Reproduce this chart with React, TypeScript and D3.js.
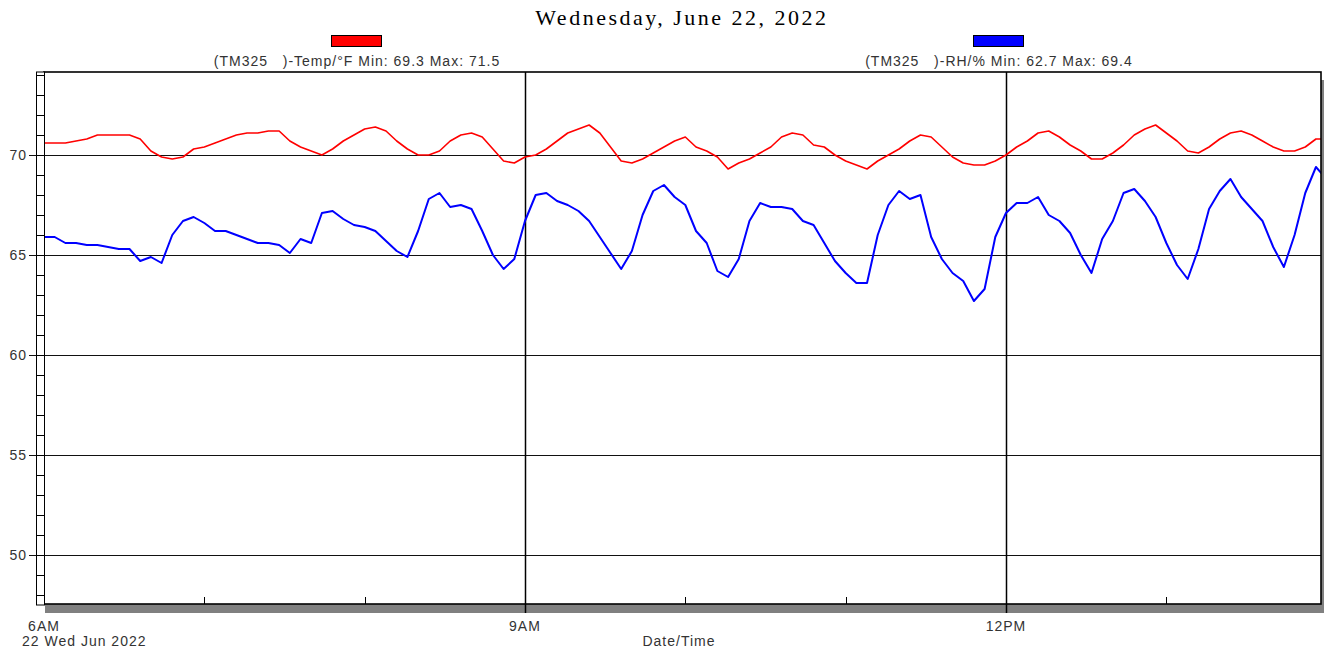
import React from 'react';
import * as d3 from 'd3';

// logger samples, one every 4 minutes from 6:00 AM
const startTime = new Date(2022, 5, 22, 6, 0);
const endTime = new Date(2022, 5, 22, 14, 0);
const stepMinutes = 4;

const tempF = [
  70.6, 70.6, 70.6, 70.7, 70.8, 71.0, 71.0, 71.0, 71.0, 70.8,
  70.2, 69.9, 69.8, 69.9, 70.3, 70.4, 70.6, 70.8, 71.0, 71.1,
  71.1, 71.2, 71.2, 70.7, 70.4, 70.2, 70.0, 70.3, 70.7, 71.0,
  71.3, 71.4, 71.2, 70.7, 70.3, 70.0, 70.0, 70.2, 70.7, 71.0,
  71.1, 70.9, 70.3, 69.7, 69.6, 69.9, 70.0, 70.3, 70.7, 71.1,
  71.3, 71.5, 71.1, 70.4, 69.7, 69.6, 69.8, 70.1, 70.4, 70.7,
  70.9, 70.4, 70.2, 69.9, 69.3, 69.6, 69.8, 70.1, 70.4, 70.9,
  71.1, 71.0, 70.5, 70.4, 70.0, 69.7, 69.5, 69.3, 69.7, 70.0,
  70.3, 70.7, 71.0, 70.9, 70.4, 69.9, 69.6, 69.5, 69.5, 69.7,
  70.0, 70.4, 70.7, 71.1, 71.2, 70.9, 70.5, 70.2, 69.8, 69.8,
  70.1, 70.5, 71.0, 71.3, 71.5, 71.1, 70.7, 70.2, 70.1, 70.4,
  70.8, 71.1, 71.2, 71.0, 70.7, 70.4, 70.2, 70.2, 70.4, 70.8,
  70.8,
];

const rhPct = [
  65.9, 65.9, 65.6, 65.6, 65.5, 65.5, 65.4, 65.3, 65.3, 64.7,
  64.9, 64.6, 66.0, 66.7, 66.9, 66.6, 66.2, 66.2, 66.0, 65.8,
  65.6, 65.6, 65.5, 65.1, 65.8, 65.6, 67.1, 67.2, 66.8, 66.5,
  66.4, 66.2, 65.7, 65.2, 64.9, 66.2, 67.8, 68.1, 67.4, 67.5,
  67.3, 66.2, 65.0, 64.3, 64.8, 66.7, 68.0, 68.1, 67.7, 67.5,
  67.2, 66.7, 65.9, 65.1, 64.3, 65.2, 67.0, 68.2, 68.5, 67.9,
  67.5, 66.2, 65.6, 64.2, 63.9, 64.8, 66.7, 67.6, 67.4, 67.4,
  67.3, 66.7, 66.5, 65.6, 64.7, 64.1, 63.6, 63.6, 66.0, 67.5,
  68.2, 67.8, 68.0, 65.9, 64.8, 64.1, 63.7, 62.7, 63.3, 65.9,
  67.1, 67.6, 67.6, 67.9, 67.0, 66.7, 66.1, 65.0, 64.1, 65.8,
  66.7, 68.1, 68.3, 67.7, 66.9, 65.6, 64.5, 63.8, 65.3, 67.3,
  68.2, 68.8, 67.9, 67.3, 66.7, 65.4, 64.4, 66.0, 68.1, 69.4,
  68.8,
];

const yMajorTicks = [50, 55, 60, 65, 70];
const xLabelHours = [6, 9, 12];
const xLabelText = ['6AM', '9AM', '12PM'];
const xGridHours = [9, 12];
const xMinorHours = [7, 8, 10, 11, 13];

const titleText = 'Wednesday, June 22, 2022';
const dateText = '22 Wed Jun 2022';
const axisTitle = 'Date/Time';
const seriesNames = ['(TM325   )-Temp/°F', '(TM325   )-RH/%'];
const seriesColors = ['#ff0000', '#0000ff'];

const W = 1324;
const H = 652;
const left = 44;
const right = 1321;
const top = 72;
const bottom = 604;
const sans = '"Liberation Sans", Arial, sans-serif';

const atHour = (h: number) => new Date(2022, 5, 22, h, 0);

export default function App() {
  const x = d3.scaleTime().domain([startTime, endTime]).range([left, left + 8 * 160.33]);
  const y = d3.scaleLinear().domain([47.55, 74.15]).range([bottom, top]);

  const timeAt = (i: number) => d3.timeMinute.offset(startTime, i * stepMinutes);
  const line = d3.line<number>()
    .x((_, i) => x(timeAt(i)))
    .y(d => y(d));

  const series = [tempF, rhPct];
  const stats = series.map(s => [d3.min(s)!, d3.max(s)!]);
  const fmt = d3.format('.1f');

  const rulerTicks = d3.range(48, 75);
  const legendCenters = [357, 999];
  const crisp = (v: number) => Math.round(v) + 0.5;

  return (
    <svg width={W} height={H} style={{ position: 'absolute', left: 0, top: 0, background: '#fff' }}>
      <defs>
        <clipPath id="plot-clip">
          <rect x={left} y={top} width={right - left} height={bottom - top} />
        </clipPath>
      </defs>

      <text x={682} y={25} textAnchor="middle" fontFamily='"Liberation Serif", "Times New Roman", serif'
        fontSize={22} style={{ letterSpacing: '2.5px' }} fill="#000">{titleText}</text>

      {series.map((s, k) => (
        <g key={k}>
          <rect x={legendCenters[k] - 25.5} y={35.5} width={50} height={11} fill={seriesColors[k]} stroke="#000" />
          <text x={legendCenters[k]} y={66} textAnchor="middle" fontFamily={sans} fontSize={14}
            style={{ letterSpacing: '1px', whiteSpace: 'pre' }} fill="#333">
            {`${seriesNames[k]} Min: ${fmt(stats[k][0])} Max: ${fmt(stats[k][1])}`}
          </text>
        </g>
      ))}

      {/* drop shadow of the plot frame */}
      <rect x={left + 1} y={top + 8} width={W - left} height={bottom - top + 1} fill="#808080" />
      <rect x={left} y={top} width={right - left} height={bottom - top} fill="#fff" />

      {yMajorTicks.map(v => (
        <g key={v}>
          <line x1={left} x2={right} y1={crisp(y(v))} y2={crisp(y(v))} stroke="#111" strokeWidth={1.2} />
          <line x1={29} x2={37} y1={crisp(y(v))} y2={crisp(y(v))} stroke="#111" />
          <text x={27} y={y(v) + 5} textAnchor="end" fontFamily={sans} fontSize={14}
            style={{ letterSpacing: '1px' }} fill="#333">{v}</text>
        </g>
      ))}

      {xGridHours.map(h => (
        <line key={h} x1={crisp(x(atHour(h)))} x2={crisp(x(atHour(h)))} y1={top} y2={613} stroke="#000" strokeWidth={1.5} />
      ))}
      {xMinorHours.map(h => (
        <line key={h} x1={crisp(x(atHour(h)))} x2={crisp(x(atHour(h)))} y1={597} y2={bottom} stroke="#000" />
      ))}

      <g clipPath="url(#plot-clip)">
        <path d={line(rhPct) ?? ''} fill="none" stroke={seriesColors[1]} strokeWidth={2} strokeLinejoin="round" />
        <path d={line(tempF) ?? ''} fill="none" stroke={seriesColors[0]} strokeWidth={1.6} strokeLinejoin="round" />
      </g>

      <rect x={left} y={top} width={right - left} height={bottom - top} fill="none" stroke="#000" strokeWidth={1.6} />

      {/* vertical ruler on the left */}
      <rect x={36.5} y={top} width={8} height={bottom - top + 1} fill="#fff" stroke="#000" />
      {rulerTicks.map(v => (
        <line key={v} x1={36.5} x2={44.5} y1={crisp(y(v))} y2={crisp(y(v))} stroke="#000" />
      ))}

      {xLabelHours.map((h, i) => (
        <text key={h} x={x(atHour(h))} y={631} textAnchor="middle" fontFamily={sans} fontSize={14}
          style={{ letterSpacing: '1px' }} fill="#333">{xLabelText[i]}</text>
      ))}
      <text x={22} y={646} fontFamily={sans} fontSize={14} style={{ letterSpacing: '1px' }} fill="#333">{dateText}</text>
      <text x={679} y={646} textAnchor="middle" fontFamily={sans} fontSize={14}
        style={{ letterSpacing: '1px' }} fill="#333">{axisTitle}</text>
    </svg>
  );
}
